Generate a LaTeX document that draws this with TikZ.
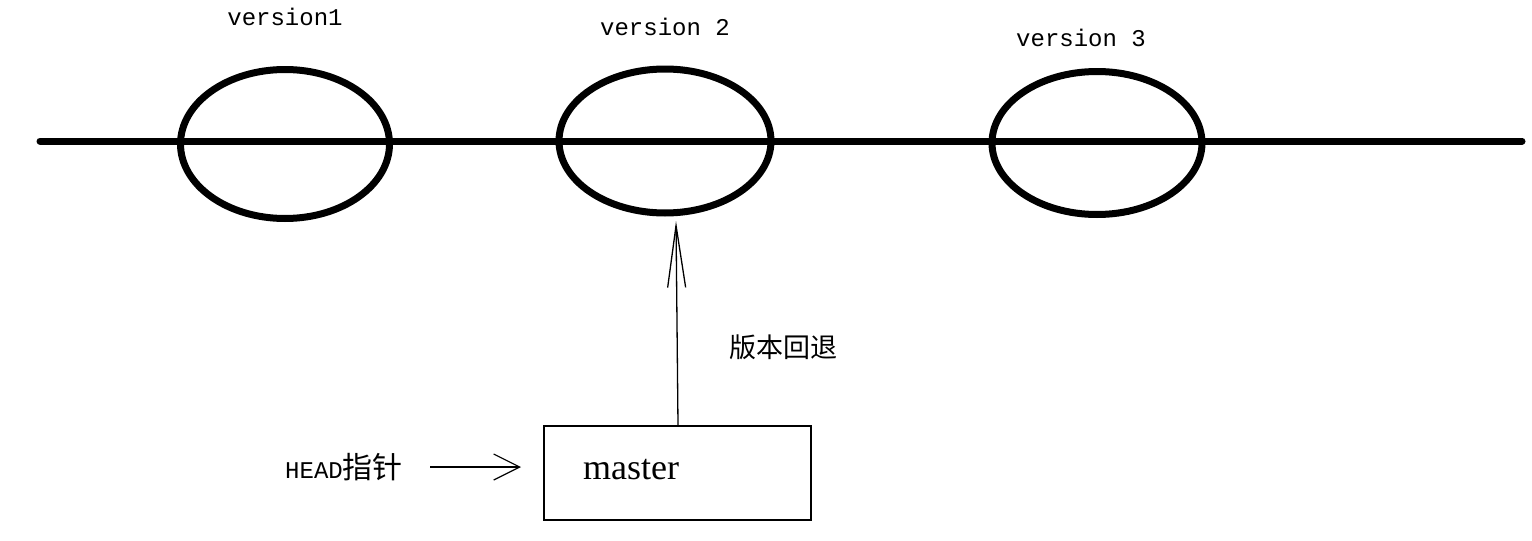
\documentclass[tikz,border=0pt]{standalone}
\usepackage{fontspec}
\setmainfont{Liberation Serif}
\setmonofont{Liberation Mono}
\newfontfamily\cjk{Noto Sans CJK SC}
\usetikzlibrary{arrows.meta,shapes.geometric}
\tikzset{
  thickline/.style={line width=7pt, line cap=round},
  ver/.style={ellipse, draw, line width=7pt, inner sep=0pt},
  vlabel/.style={font=\ttfamily\fontsize{24}{26}\selectfont, inner sep=0pt},
  thinarrow/.style={line width=1.3pt},
  boxnode/.style={draw, line width=1.5pt, minimum width=267pt, minimum height=94pt, inner sep=0pt},
}
\begin{document}
\begin{tikzpicture}[x=1pt,y=1pt]
\useasboundingbox (0,0) rectangle (1532,-541);
\fill[white] (0,0) rectangle (1532,-541);
\coordinate (L) at (40,-141);
\coordinate (R) at (1522,-141);
\draw[thickline] (L) -- (R);
\node[ver, minimum width=209pt, minimum height=149pt] (v1) at (285,-144) {};
\node[ver, minimum width=212pt, minimum height=144pt] (v2) at (665,-141) {};
\node[ver, minimum width=210pt, minimum height=143pt] (v3) at (1097,-143) {};
\node[vlabel] (t1) at (285,-17) {version1};
\node[vlabel] (t2) at (665,-27) {version 2};
\node[vlabel] (t3) at (1081,-38) {version 3};
\node[boxnode, anchor=north west] (m) at (543,-425) {};
\node[font=\fontsize{36}{38}\selectfont, inner sep=0pt, anchor=west] (mt) at (583,-470) {master};
\coordinate (mtop) at (678,-425);
\coordinate (vbot) at (676,-221);
\draw[thinarrow, -{Straight Barb[length=62pt,width=18pt,line width=1.3pt]}] (mtop) -- (vbot);
\node[font=\cjk\fontsize{27}{29}\selectfont, inner sep=0pt] (hui) at (783,-347) {版本回退};
\node[inner sep=0pt, anchor=west] (head) at (285,-467) {\ttfamily\fontsize{24}{26}\selectfont HEAD{\cjk\fontsize{30}{32}\selectfont 指针}};
\coordinate (hs) at (430,-467);
\coordinate (he) at (521,-467);
\draw[line width=1.2pt, -{Straight Barb[length=26pt,width=26pt,line width=1.2pt]}] (hs) -- (he);
\end{tikzpicture}
\end{document}
